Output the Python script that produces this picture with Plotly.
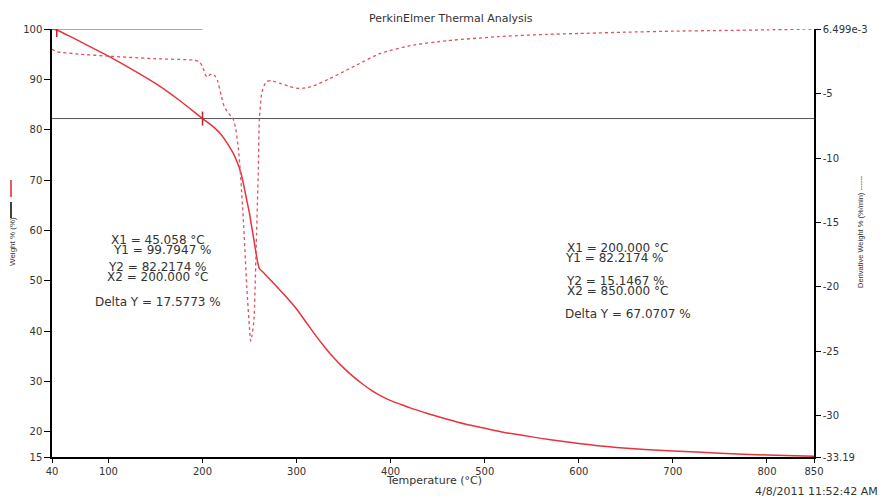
import plotly.graph_objects as go

# ---- TGA weight curve (% vs °C) ----
temp_w = [40, 45.058, 70, 100, 125, 150, 175, 200, 210, 218.6, 226, 232.7, 237, 241, 244, 247,
          250, 252.3, 254, 256, 258.5, 260.5, 265, 270, 280, 290, 300, 310, 320, 330, 340,
          350, 360, 370, 380, 390, 400, 410, 420, 440, 460, 480, 500, 520, 540, 560, 580,
          600, 620, 640, 670, 700, 750, 800, 850]
weight = [100.0, 99.7947, 97.5, 94.6, 92.0, 89.2, 85.9, 82.2174, 80.8, 79.3, 77.4, 75.3, 73.5,
          71.3, 68.8, 66.0, 63.3, 60.7, 58.8, 56.5, 53.8, 52.4, 51.6, 50.6, 48.6, 46.6, 44.4,
          41.8, 39.2, 36.8, 34.6, 32.7, 31.0, 29.5, 28.2, 27.1, 26.2, 25.5, 24.8, 23.6, 22.5,
          21.5, 20.7, 19.9, 19.3, 18.7, 18.2, 17.7, 17.25, 16.9, 16.5, 16.2, 15.75, 15.4,
          15.1467]

# ---- DTG derivative curve (%/min vs °C) ----
temp_d = [40, 45, 70, 100, 150, 190, 196, 200, 203, 205, 207, 210, 213, 216, 220, 223, 229, 232,
          235, 238, 240, 243.4, 247, 250, 251.2, 252.5, 254.7, 256.9, 259.3, 260.4, 262.9, 266,
          268.2, 273.5, 282, 293, 300, 310, 318, 335, 350, 364, 389, 424, 460, 513, 566, 601,
          650, 700, 750, 800, 850]
deriv = [-1.57, -1.75, -1.95, -2.1, -2.3, -2.4, -2.5, -2.9, -3.55, -3.73, -3.6, -3.48, -3.6,
         -4.0, -5.2, -6.0, -6.65, -6.85, -7.6, -9.2, -10.9, -14.76, -19.9, -23.3, -24.2, -23.8,
         -22.5, -17.3, -10.9, -7.0, -4.97, -4.3, -4.07, -4.0, -4.2, -4.46, -4.59, -4.55, -4.4,
         -3.85, -3.3, -2.78, -1.88, -1.24, -0.9, -0.59, -0.41, -0.34, -0.24, -0.16, -0.11,
         -0.06, 0.0065]

# ---- cursor readouts ----
cursor_x = [45.058, 200.000]
cursor_y = [99.7947, 82.2174]
cursor2_x = [200.000, 850.000]
cursor2_y = [82.2174, 15.1467]

x_ticks = [40, 100, 200, 300, 400, 500, 600, 700, 800, 850]
y_ticks = [15, 20, 30, 40, 50, 60, 70, 80, 90, 100]
y2_ticks = [-33.19, -30, -25, -20, -15, -10, -5, 0.006499]
y2_tick_text = ["-33.19", "-30", "-25", "-20", "-15", "-10", "-5", "6.499e-3"]

W, H = 883, 498
ML, MR, MT, MB = 52, 69, 29, 41
PW, PH = W - ML - MR, H - MT - MB


def px(x):
    return (x - ML) / PW


def py(y):
    return (H - MB - y) / PH


RED = "#e8323c"
PINK = "#e2505e"
TXT = "#333333"
SANS = "DejaVu Sans"
NARROW = "Liberation Sans"

fig = go.Figure()

# cursor lines
fig.add_trace(go.Scatter(x=[40, cursor_x[1]], y=[100, 100], mode="lines",
                         line=dict(color="#555555", width=1), hoverinfo="skip"))
fig.add_trace(go.Scatter(x=[40, 850], y=[cursor_y[1], cursor_y[1]], mode="lines",
                         line=dict(color="#555555", width=1), hoverinfo="skip"))

fig.add_trace(go.Scatter(x=temp_d, y=deriv, mode="lines", yaxis="y2",
                         line=dict(color=PINK, width=1.3, dash="dot", shape="spline",
                                   smoothing=0.5)))
fig.add_trace(go.Scatter(x=temp_w, y=weight, mode="lines",
                         line=dict(color=RED, width=1.5, shape="spline", smoothing=0.5)))

# cursor tick marks on the weight curve
fig.add_trace(go.Scatter(x=cursor_x, y=cursor_y, mode="markers",
                         marker=dict(symbol="line-ns-open", size=10, color="#c0202a",
                                     line=dict(color="#c0202a", width=1.5)),
                         hoverinfo="skip"))

axis_font = dict(family=SANS, size=10, color=TXT)

fig.update_layout(
    width=W, height=H,
    margin=dict(l=ML, r=MR, t=MT, b=MB),
    paper_bgcolor="white", plot_bgcolor="white",
    showlegend=False,
    xaxis=dict(range=[40, 850], tickvals=x_ticks, ticks="outside", ticklen=4,
               tickcolor="black", showline=True, linecolor="black", linewidth=1.5,
               showgrid=False, zeroline=False, tickfont=axis_font),
    yaxis=dict(range=[15, 100], tickvals=y_ticks, ticks="outside", ticklen=6,
               tickcolor="black", showline=True, linecolor="black", linewidth=1.5,
               showgrid=False, zeroline=False, tickfont=axis_font),
    yaxis2=dict(range=[-33.19, 0.006499], tickvals=y2_ticks, ticktext=y2_tick_text,
                overlaying="y", side="right", ticks="outside", ticklen=5,
                tickcolor="black", showline=True, linecolor="black", linewidth=1.5,
                showgrid=False, zeroline=False, tickfont=axis_font),
)

ann = []


def text(x, y, s, size=12, anchor="left", angle=0, family=SANS, color=TXT):
    ann.append(dict(x=px(x), y=py(y), xref="paper", yref="paper", text=s, showarrow=False,
                    xanchor=anchor, yanchor="middle", textangle=angle,
                    font=dict(family=family, size=size, color=color)))


text(451, 19, "PerkinElmer Thermal Analysis", size=11, anchor="center")
text(434, 480, "Temperature (°C)", size=11, anchor="center")
text(880, 491, "4/8/2011 11:52:42 AM", size=11, anchor="right")
text(12, 242, "Weight % (%)", size=8, anchor="center", angle=-90, family=NARROW)
text(860, 232, "Derivative Weight % (%/min) ------", size=7.5, anchor="center", angle=-90,
     family=NARROW)

# left readout block
text(158, 240, f"X1 = {cursor_x[0]:.3f} °C", anchor="center")
text(162, 250, f"Y1 = {cursor_y[0]:.4f} %", anchor="center")
text(157, 267, f"Y2 = {cursor_y[1]:.4f} %", anchor="center")
text(157, 277, f"X2 = {cursor_x[1]:.3f} °C", anchor="center")
text(158, 302, f"Delta Y = {cursor_y[0] - cursor_y[1]:.4f} %", anchor="center")

# right readout block
text(617, 248, f"X1 = {cursor2_x[0]:.3f} °C", anchor="center")
text(614, 258, f"Y1 = {cursor2_y[0]:.4f} %", anchor="center")
text(615, 281, f"Y2 = {cursor2_y[1]:.4f} %", anchor="center")
text(617, 291, f"X2 = {cursor2_x[1]:.3f} °C", anchor="center")
text(628, 314, f"Delta Y = {cursor2_y[0] - cursor2_y[1]:.4f} %", anchor="center")

fig.update_layout(annotations=ann)

# legend swatches beside the left axis title
fig.add_shape(type="line", xref="paper", yref="paper", x0=px(11), x1=px(11),
              y0=py(180), y1=py(197), line=dict(color="#e02030", width=1.5))
fig.add_shape(type="line", xref="paper", yref="paper", x0=px(11), x1=px(11),
              y0=py(202), y1=py(218), line=dict(color="black", width=1.5))

fig.write_html("out.html")
